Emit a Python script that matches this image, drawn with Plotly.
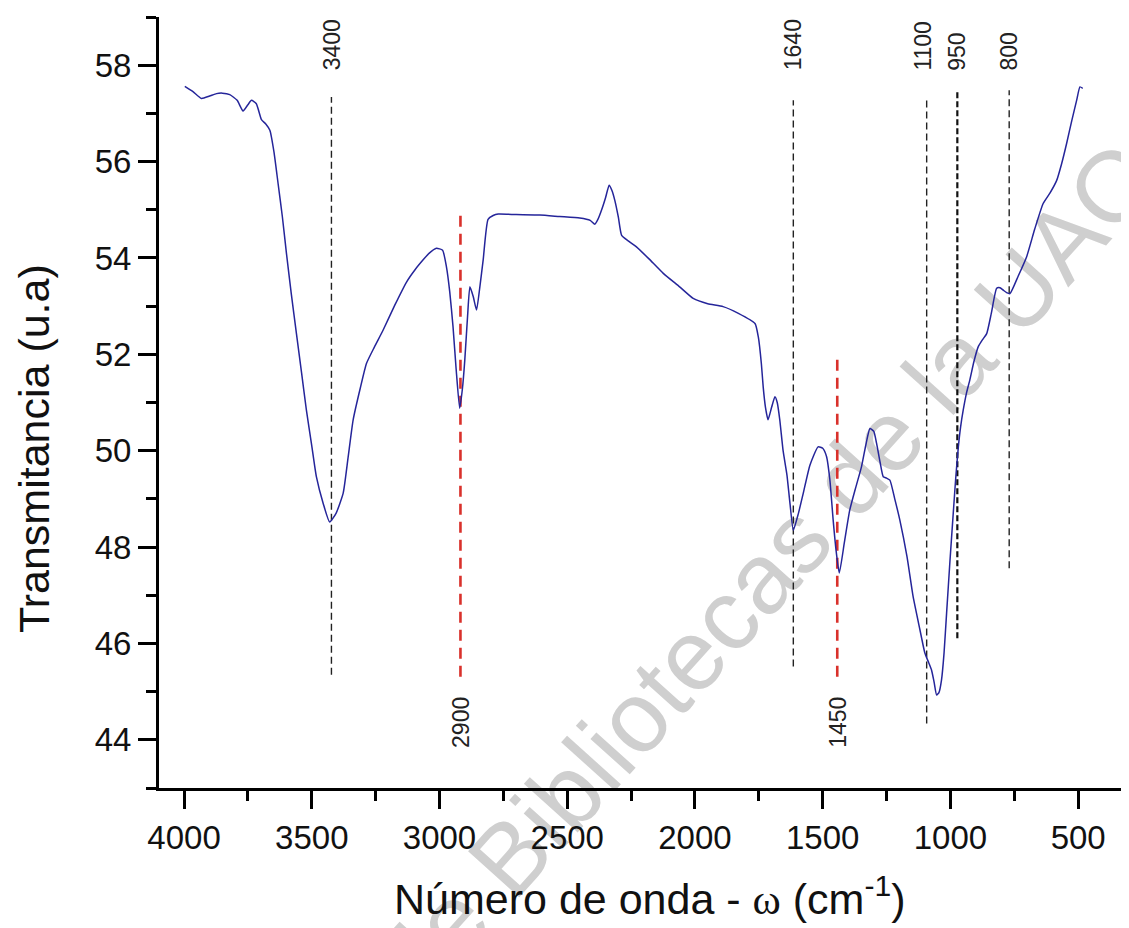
import plotly.graph_objects as go

# ---- spectrum data (wavenumber cm-1, transmittance u.a.) ----
wavenumber = [3997, 3965, 3932, 3900, 3873, 3850, 3821, 3792, 3769, 3750, 3736, 3717, 3697, 3680,
              3664, 3648, 3632, 3615, 3599, 3580, 3560, 3540, 3521, 3500, 3482, 3455, 3430, 3405,
              3377, 3358, 3338, 3310, 3286, 3255, 3221, 3175, 3129, 3095, 3064, 3040, 3012, 2988,
              2973, 2960, 2947, 2935, 2921, 2910, 2901, 2890, 2881, 2868, 2855, 2842, 2829, 2810,
              2790, 2770, 2700, 2607, 2530, 2451, 2410, 2392, 2380, 2366, 2350, 2336, 2325, 2314,
              2300, 2287, 2260, 2229, 2180, 2124, 2060, 2007, 1950, 1890, 1830, 1765, 1752, 1740,
              1733, 1724, 1714, 1700, 1687, 1678, 1668, 1655, 1640, 1628, 1615, 1595, 1576, 1550,
              1518, 1500, 1485, 1472, 1459, 1447, 1435, 1415, 1394, 1370, 1348, 1330, 1315, 1300,
              1289, 1275, 1263, 1250, 1237, 1218, 1198, 1170, 1146, 1120, 1100, 1085, 1074, 1064,
              1054, 1045, 1035, 1025, 1015, 1002, 989, 979, 969, 960, 950, 937, 924, 908, 891, 875,
              858, 840, 819, 806, 793, 780, 767, 735, 702, 670, 637, 610, 584, 565, 545, 525, 506,
              493, 482]
transmittance = [57.56, 57.45, 57.31, 57.36, 57.41, 57.42, 57.39, 57.27, 57.05, 57.18, 57.27, 57.20,
                 56.87, 56.78, 56.65, 56.20, 55.55, 54.85, 54.09, 53.25, 52.43, 51.62, 50.84, 50.10,
                 49.46, 48.90, 48.52, 48.70, 49.12, 49.85, 50.64, 51.30, 51.81, 52.15, 52.50, 53.02,
                 53.50, 53.76, 53.96, 54.10, 54.20, 54.16, 53.82, 53.30, 52.57, 51.70, 50.88, 51.30,
                 51.88, 52.80, 53.40, 53.20, 52.92, 53.40, 53.96, 54.80, 54.88, 54.91, 54.90, 54.89,
                 54.86, 54.83, 54.78, 54.70, 54.80, 54.99, 55.25, 55.51, 55.40, 55.20, 54.85, 54.47,
                 54.35, 54.23, 53.98, 53.68, 53.40, 53.16, 53.05, 52.99, 52.85, 52.64, 52.36, 51.80,
                 51.33, 50.90, 50.64, 50.90, 51.12, 51.00, 50.64, 50.00, 49.50, 48.90, 48.35, 48.70,
                 49.12, 49.70, 50.08, 50.05, 49.88, 49.40, 48.56, 47.90, 47.46, 48.10, 48.77, 49.25,
                 49.67, 50.15, 50.46, 50.40, 50.15, 49.75, 49.46, 49.43, 49.39, 49.00, 48.56, 47.80,
                 46.97, 46.30, 45.80, 45.60, 45.45, 45.20, 44.93, 44.98, 45.24, 45.80, 46.63, 47.70,
                 48.70, 49.45, 50.08, 50.50, 50.84, 51.20, 51.47, 51.85, 52.16, 52.30, 52.43, 52.85,
                 53.37, 53.38, 53.33, 53.28, 53.26, 53.62, 54.02, 54.60, 55.13, 55.35, 55.61, 55.95,
                 56.38, 56.85, 57.27, 57.55, 57.52]

# ---- marked bands ----
band_labels = ["3400", "2900", "1640", "1450", "1100", "950", "800"]
band_pos = [3423, 2918, 1615, 1443, 1093, 973, 770]
band_top = [57.34, 54.92, 57.27, 51.98, 57.34, 57.45, 57.48]
band_bottom = [45.35, 45.31, 45.52, 45.31, 44.34, 46.11, 47.56]
band_red = [False, True, False, True, False, False, False]

x_ticks = [4000, 3500, 3000, 2500, 2000, 1500, 1000, 500]
y_ticks = [44, 46, 48, 50, 52, 54, 56, 58]

# page has an 8px body margin: figure is 1121x920 placed at (8, 8)
OFF = 8
W, H = 1129 - OFF, 928 - OFF
L, R, T, B = 159 - OFF, 0, 17 - OFF, 928 - 788
FONT = "Liberation Sans, Arial, sans-serif"
pw = W - L - R
ph = H - T - B


def px_x(p):
    # page pixel -> paper x
    return (p - OFF - L) / pw


def px_y(p):
    # page pixel -> paper y
    return (H - B - (p - OFF)) / ph


fig = go.Figure()

# watermark (behind the data)
cx, cy = px_x(760), px_y(564)
fig.add_shape(type="rect", xref="paper", yref="paper",
              x0=cx - 0.001, x1=cx + 0.001, y0=cy - 0.001, y1=cy + 0.001,
              line=dict(width=0), fillcolor="rgba(0,0,0,0)", layer="below",
              label=dict(text="de Bibliotecas de la UAO", textangle=-48,
                         textposition="middle center",
                         font=dict(size=100, color="#cfcfcf", family=FONT)))

for lab, xp, yt, yb, red in zip(band_labels, band_pos, band_top, band_bottom, band_red):
    if red:
        line = dict(color="#d9312b", width=2.6, dash="11px,7px")
    elif lab == "950":
        line = dict(color="#111111", width=2.2, dash="6px,3px")
    else:
        line = dict(color="#222222", width=1.4, dash="7px,4px")
    fig.add_trace(go.Scatter(x=[xp, xp], y=[yb, yt], mode="lines", line=line,
                             hoverinfo="skip", showlegend=False))

fig.add_trace(go.Scatter(x=wavenumber, y=transmittance, mode="lines",
                         line=dict(color="#25259a", width=1.5, shape="spline", smoothing=0.5),
                         showlegend=False))

for lab, xp, yt, yb, red in zip(band_labels, band_pos, band_top, band_bottom, band_red):
    if red:
        fig.add_annotation(x=xp, y=44.93, xref="x", yref="y", text=lab, textangle=-90,
                           showarrow=False, yanchor="top", xanchor="center",
                           font=dict(size=23, color="#222222", family=FONT))
    else:
        fig.add_annotation(x=xp, y=57.85, xref="x", yref="y", text=lab, textangle=-90,
                           showarrow=False, yanchor="bottom", xanchor="center",
                           xshift=-4 if lab == "1100" else 0,
                           font=dict(size=23, color="#222222", family=FONT))

# axis titles
fig.add_annotation(x=px_x(650), y=px_y(896), xref="paper", yref="paper",
                   text="Número de onda - <span style='font-family:Liberation Serif, Times New Roman, serif'>ω</span> (cm<sup>-1</sup>)",
                   showarrow=False, xanchor="center", yanchor="middle",
                   font=dict(size=43, color="#111111", family=FONT))
fig.add_annotation(x=px_x(34), y=px_y(449), xref="paper", yref="paper",
                   text="Transmitancia (u.a)", textangle=-90,
                   showarrow=False, xanchor="center", yanchor="middle",
                   font=dict(size=43, color="#111111", family=FONT))

axis_common = dict(showgrid=False, zeroline=False, showline=True, linewidth=3,
                   linecolor="black", ticks="outside", ticklen=18, tickwidth=3,
                   tickcolor="black", automargin=False,
                   tickfont=dict(size=33, color="#111111", family=FONT))

fig.update_xaxes(range=[4098, 301], tickmode="array", tickvals=x_ticks,
                 ticktext=[str(v) for v in x_ticks],
                 minor=dict(ticks="outside", ticklen=10, tickwidth=3, tickcolor="black",
                            dtick=250, tick0=0),
                 **axis_common)
fig.update_yaxes(range=[43, 59], tickmode="array", tickvals=y_ticks,
                 ticktext=[str(v) for v in y_ticks],
                 minor=dict(ticks="outside", ticklen=10, tickwidth=3, tickcolor="black",
                            dtick=1, tick0=0),
                 **axis_common)

fig.update_layout(width=W, height=H, autosize=False,
                  margin=dict(l=L, r=R, t=T, b=B, pad=0, autoexpand=False),
                  plot_bgcolor="white", paper_bgcolor="white",
                  font=dict(family=FONT), showlegend=False)

fig.write_html("out.html")
